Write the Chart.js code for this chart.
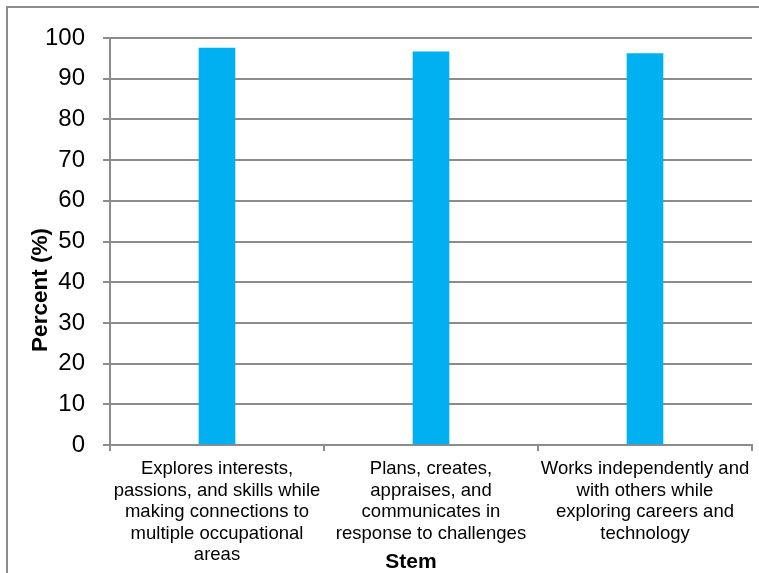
<!DOCTYPE html>
<html>
<head>
<meta charset="utf-8">
<script src="https://cdn.jsdelivr.net/npm/chart.js@4"></script>
<style>
    body { margin: 0; background: #fff; overflow: hidden; }
    #frame { position: absolute; left: 6px; top: 6px; width: 800px; height: 600px; border: 2px solid #8c8c8c; }
    #wrap { position: absolute; left: 0; top: 0; width: 759px; height: 573px; }
</style>
</head>
<body>
<div id="frame"></div>
<div id="wrap"><canvas id="chart"></canvas></div>
<script>
// categories (multi-line labels as in the original)
const categories = [
    ['Explores interests,', 'passions, and skills while', 'making connections to', 'multiple occupational', 'areas'],
    ['Plans, creates,', 'appraises, and', 'communicates in', 'response to challenges'],
    ['Works independently and', 'with others while', 'exploring careers and', 'technology']
];
const percentValues = [97.5, 96.6, 96.2];
const yTicks = [0, 10, 20, 30, 40, 50, 60, 70, 80, 90, 100];
const xTitle = 'Stem';
const yTitle = 'Percent (%)';

const GRID = '#8c8c8c';
Chart.defaults.font.family = "'Liberation Sans', Arial, sans-serif";
Chart.defaults.color = '#000';

// axis titles sit off-centre in the original, so draw them by hand
const axisTitles = {
    id: 'axisTitles',
    afterDraw(chart) {
        const c = chart.ctx;
        c.save();
        c.fillStyle = '#000';
        c.font = "bold 22.5px 'Liberation Sans', Arial, sans-serif";
        c.textAlign = 'center';
        c.textBaseline = 'middle';
        c.translate(41, 290);
        c.rotate(-Math.PI / 2);
        c.fillText(yTitle, 0, 0);
        c.restore();

        c.save();
        c.fillStyle = '#000';
        c.font = "bold 21px 'Liberation Sans', Arial, sans-serif";
        c.textAlign = 'center';
        c.textBaseline = 'middle';
        c.fillText(xTitle, 411, 562);
        c.restore();
    }
};

const ctx = document.getElementById('chart');
new Chart(ctx, {
    type: 'bar',
    data: {
        labels: categories,
        datasets: [{ label: 'Stem', data: percentValues, backgroundColor: '#00B0F0', barThickness: 36 }]
    },
    options: {
        responsive: true,
        maintainAspectRatio: false,
        animation: false,
        layout: { padding: { top: 38, right: 7, bottom: 0, left: 0 } },
        plugins: { legend: { display: false }, tooltip: { enabled: false } },
        scales: {
            x: {
                grid: { display: true, drawOnChartArea: false, drawTicks: true, tickLength: 6, color: GRID, lineWidth: 2 },
                border: { display: true, color: GRID, width: 2 },
                ticks: { font: { size: 18.5, lineHeight: 1.17 }, padding: 7, maxRotation: 0, autoSkip: false },
                afterFit: s => { s.height = 128; }
            },
            y: {
                min: 0,
                max: 100,
                afterBuildTicks: s => { s.ticks = yTicks.map(v => ({ value: v })); },
                grid: { color: GRID, lineWidth: 2, tickLength: 7 },
                border: { display: true, color: GRID, width: 2 },
                ticks: { font: { size: 24 }, padding: 18 },
                afterFit: s => { s.width = 110; }
            }
        }
    },
    plugins: [axisTitles]
});
</script>
</body>
</html>
